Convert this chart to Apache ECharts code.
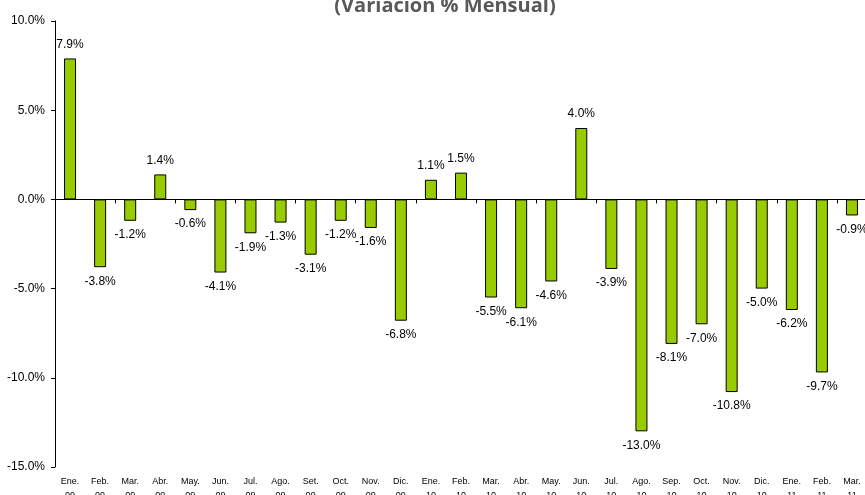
<!DOCTYPE html>
<html>
<head>
<meta charset="UTF-8">
<title>Variación % Mensual</title>
<script src="https://cdn.jsdelivr.net/npm/echarts@6/dist/echarts.min.js"></script>
<style>
  html, body { margin: 0; padding: 0; background: #fff; }
  #chart { width: 865px; height: 495px; }
</style>
</head>
<body>
<div id="chart"></div>
<script>
var meses = ['Ene.', 'Feb.', 'Mar.', 'Abr.', 'May.', 'Jun.', 'Jul.', 'Ago.', 'Set.', 'Oct.', 'Nov.', 'Dic.',
             'Ene.', 'Feb.', 'Mar.', 'Abr.', 'May.', 'Jun.', 'Jul.', 'Ago.', 'Sep.', 'Oct.', 'Nov.', 'Dic.',
             'Ene.', 'Feb.', 'Mar.'];
var anios = ['09', '09', '09', '09', '09', '09', '09', '09', '09', '09', '09', '09',
             '10', '10', '10', '10', '10', '10', '10', '10', '10', '10', '10', '10',
             '11', '11', '11'];
var variacion = [7.9, -3.8, -1.2, 1.4, -0.6, -4.1, -1.9, -1.3, -3.1, -1.2, -1.6, -6.8,
                 1.1, 1.5, -5.5, -6.1, -4.6, 4.0, -3.9, -13.0, -8.1, -7.0, -10.8, -5.0,
                 -6.2, -9.7, -0.9];

var categorias = [];
for (var i = 0; i < meses.length; i++) {
  categorias.push(meses[i] + '\n' + anios[i]);
}

var datos = variacion.map(function (v) {
  return { value: v, label: { position: v < 0 ? 'bottom' : 'top' } };
});

var chart = echarts.init(document.getElementById('chart'));
chart.setOption({
  animation: false,
  title: {
    text: '(Variación % Mensual)',
    left: 440,
    textAlign: 'center',
    top: -9,
    textStyle: { fontFamily: 'Open Sans', fontWeight: 'bold', fontSize: 20, color: '#595959' }
  },
  grid: { left: 55, right: -2, top: 21, bottom: 28, outerBoundsMode: 'none', containLabel: false },
  xAxis: [{
    type: 'category',
    data: categorias,
    axisLine: { onZero: true, lineStyle: { color: '#000', width: 1 } },
    axisTick: { show: true, length: 4, lineStyle: { color: '#000' } },
    axisLabel: { show: false }
  }, {
    type: 'category',
    data: categorias,
    position: 'bottom',
    axisLine: { show: false, onZero: false },
    axisTick: { show: false },
    axisLabel: {
      interval: 0,
      margin: 8,
      fontFamily: 'Arial',
      fontSize: 9,
      lineHeight: 14,
      color: '#000'
    }
  }],
  yAxis: {
    type: 'value',
    min: -15,
    max: 10,
    interval: 5,
    axisLine: { show: true, lineStyle: { color: '#000', width: 1 } },
    axisTick: { show: true, length: 4, lineStyle: { color: '#000' } },
    splitLine: { show: false },
    axisLabel: {
      margin: 10,
      fontFamily: 'Arial',
      fontSize: 12,
      color: '#000',
      formatter: function (v) { return v.toFixed(1) + '%'; }
    }
  },
  series: [{
    type: 'bar',
    xAxisIndex: 0,
    data: datos,
    barWidth: 12,
    itemStyle: { color: '#99cc00', borderColor: '#000', borderWidth: 1 },
    label: {
      show: true,
      distance: 8,
      fontFamily: 'Arial',
      fontSize: 12,
      color: '#000',
      formatter: function (p) { return p.value.toFixed(1) + '%'; }
    }
  }]
});
</script>
</body>
</html>
